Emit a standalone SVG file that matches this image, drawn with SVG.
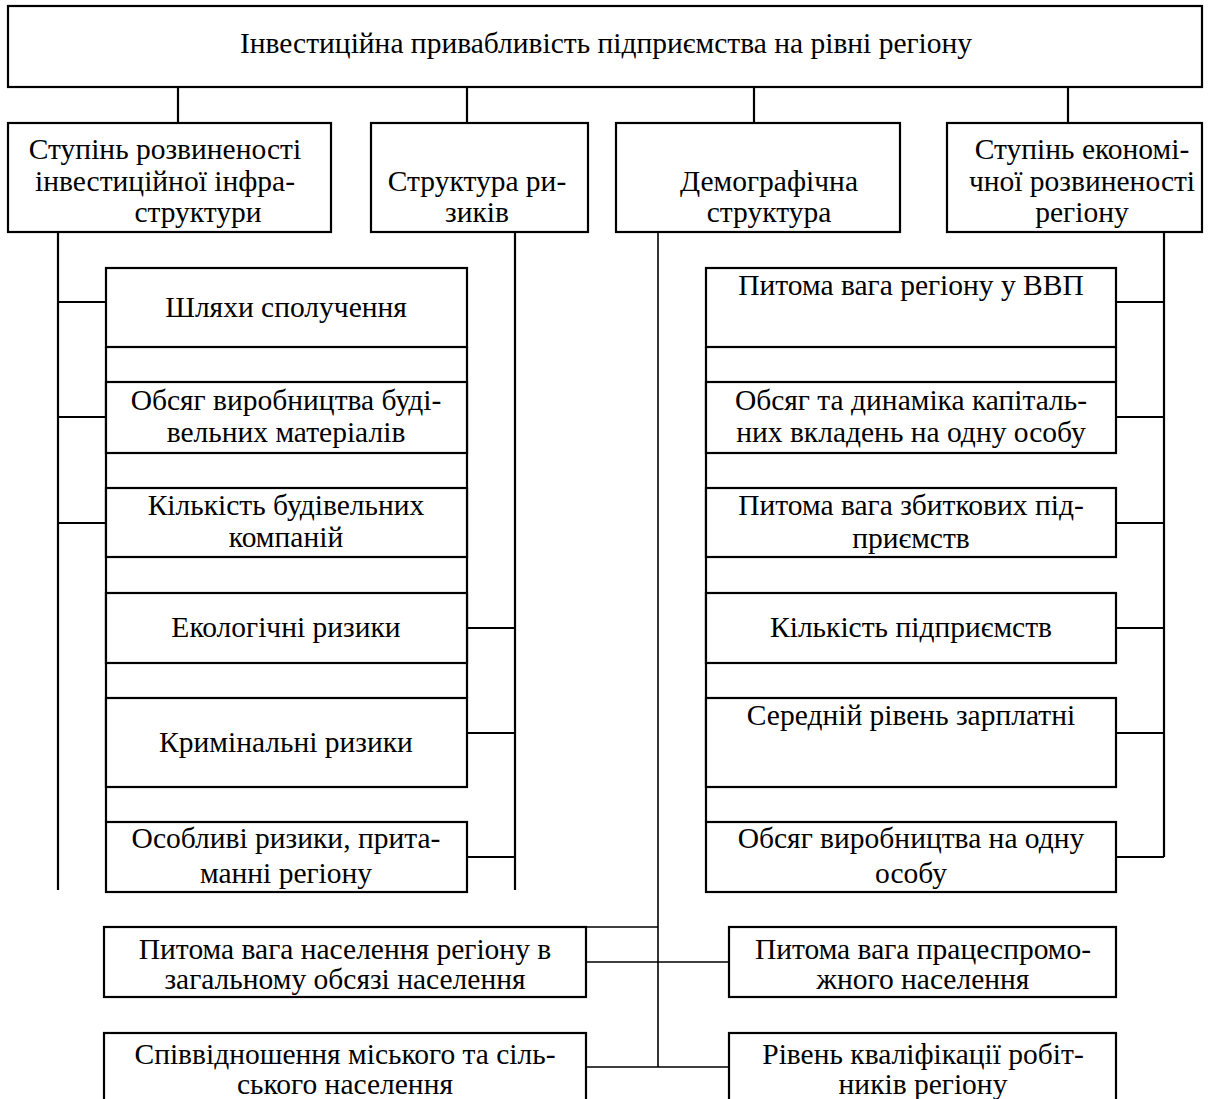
<svg xmlns="http://www.w3.org/2000/svg" width="1209" height="1099" viewBox="0 0 1209 1099">
<style>
.b{fill:#fff;stroke:#000;stroke-width:2.2}
.s{fill:none;stroke:#000;stroke-width:2.2}
.t{fill:none;stroke:#000;stroke-width:1.6}
text{font-family:"Liberation Serif","Times New Roman",serif;font-size:29.5px;fill:#000;text-anchor:middle}
</style>
<rect width="1209" height="1099" fill="#fff"/>
<g id="connectors">
<path class="s" d="M178 87V123M467 87V123M754 87V123M1068 87V123"/>
<path class="s" d="M58 232V890M58 302H106M58 417H106M58 523H106"/>
<path class="s" d="M515 232V890M467 628H515M467 733H515M467 857H515"/>
<path class="s" d="M1164 232V857M1116 302H1164M1116 417H1164M1116 523H1164M1116 628H1164M1116 733H1164M1116 857H1164"/>
<path class="t" d="M658 232V1067M586 927H658M586 962H729M586 1067H729"/>
<path class="s" d="M106 347V822M467 347V698"/>
<path class="s" d="M706 347V822M1116 347V382"/>
</g>
<g id="root"><rect class="b" x="8" y="6" width="1194" height="81"/><text x="606" y="53">Інвестиційна привабливість підприємства на рівні регіону</text></g>
<g id="infra"><rect class="b" x="8" y="123" width="323" height="109"/><text x="165" y="159">Ступінь розвиненості</text><text x="165" y="191">інвестиційної інфра-</text><text x="198" y="222">структури</text></g>
<g id="risks"><rect class="b" x="371" y="123" width="217" height="109"/><text x="477" y="191">Структура ри-</text><text x="477" y="222">зиків</text></g>
<g id="demo"><rect class="b" x="616" y="123" width="284" height="109"/><text x="769" y="191">Демографічна</text><text x="769" y="222">структура</text></g>
<g id="econ"><rect class="b" x="947" y="123" width="255" height="109"/><text x="1082" y="159">Ступінь економі-</text><text x="1082" y="191">чної розвиненості</text><text x="1082" y="222">регіону</text></g>
<g id="roads"><rect class="b" x="106" y="268" width="361" height="79"/><text x="286" y="317">Шляхи сполучення</text></g>
<g id="materials"><rect class="b" x="106" y="382" width="361" height="71"/><text x="286" y="410">Обсяг виробництва буді-</text><text x="286" y="442">вельних матеріалів</text></g>
<g id="companies"><rect class="b" x="106" y="488" width="361" height="69"/><text x="286" y="515">Кількість будівельних</text><text x="286" y="547">компаній</text></g>
<g id="eco"><rect class="b" x="106" y="593" width="361" height="70"/><text x="286" y="637">Екологічні ризики</text></g>
<g id="crime"><rect class="b" x="106" y="698" width="361" height="89"/><text x="286" y="752">Кримінальні ризики</text></g>
<g id="special"><rect class="b" x="106" y="822" width="361" height="70"/><text x="286" y="848">Особливі ризики, прита-</text><text x="286" y="883">манні регіону</text></g>
<g id="gdp"><rect class="b" x="706" y="268" width="410" height="79"/><text x="911" y="295">Питома вага регіону у ВВП</text></g>
<g id="capital"><rect class="b" x="706" y="382" width="410" height="71"/><text x="911" y="410">Обсяг та динаміка капіталь-</text><text x="911" y="442">них вкладень на одну особу</text></g>
<g id="loss"><rect class="b" x="706" y="488" width="410" height="69"/><text x="911" y="515">Питома вага збиткових під-</text><text x="911" y="548">приємств</text></g>
<g id="count"><rect class="b" x="706" y="593" width="410" height="70"/><text x="911" y="637">Кількість підприємств</text></g>
<g id="salary"><rect class="b" x="706" y="698" width="410" height="89"/><text x="911" y="725">Середній рівень зарплатні</text></g>
<g id="output"><rect class="b" x="706" y="822" width="410" height="70"/><text x="911" y="848">Обсяг виробництва на одну</text><text x="911" y="883">особу</text></g>
<g id="popshare"><rect class="b" x="104" y="927" width="482" height="70"/><text x="345" y="959">Питома вага населення регіону в</text><text x="345" y="989">загальному обсязі населення</text></g>
<g id="workforce"><rect class="b" x="729" y="927" width="387" height="70"/><text x="923" y="959">Питома вага працеспромо-</text><text x="923" y="989">жного населення</text></g>
<g id="urban"><rect class="b" x="104" y="1033" width="482" height="70"/><text x="345" y="1064">Співвідношення міського та сіль-</text><text x="345" y="1094">ського населення</text></g>
<g id="qualification"><rect class="b" x="729" y="1033" width="387" height="70"/><text x="923" y="1064">Рівень кваліфікації робіт-</text><text x="923" y="1094">ників регіону</text></g>
</svg>
